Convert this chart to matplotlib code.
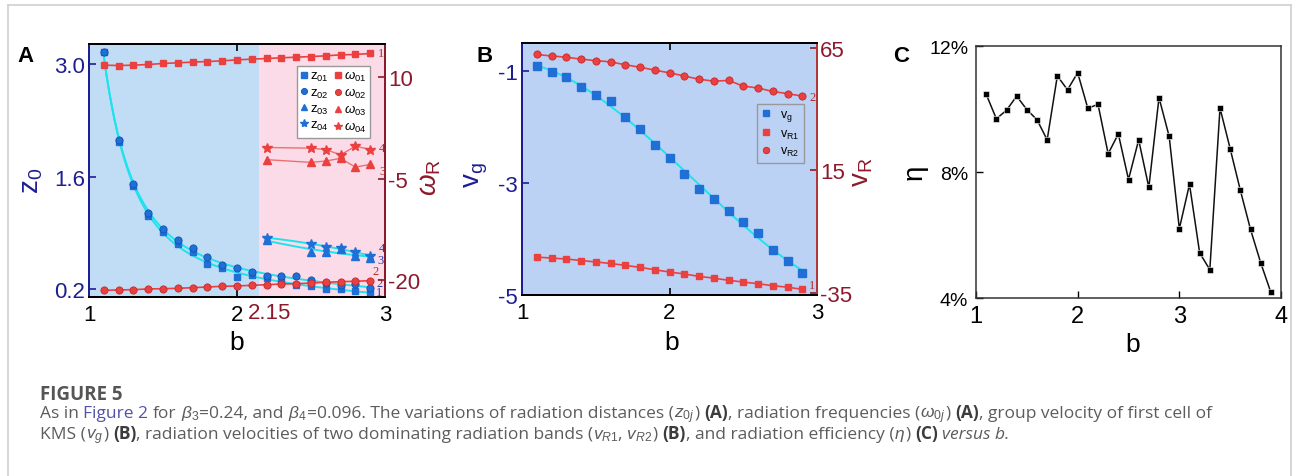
import numpy as np
import matplotlib
matplotlib.use("Agg")
import matplotlib.pyplot as plt
from matplotlib.lines import Line2D
from matplotlib.transforms import IdentityTransform
from matplotlib.ticker import FuncFormatter

plt.rcParams['font.family'] = ['Liberation Sans', 'DejaVu Sans']
plt.rcParams['axes.unicode_minus'] = False
plt.rcParams['mathtext.fontset'] = 'custom'
plt.rcParams['mathtext.rm'] = 'Liberation Sans'
plt.rcParams['mathtext.it'] = 'Liberation Sans:italic'
plt.rcParams['mathtext.bf'] = 'Liberation Sans:bold'

# ---------------- data ----------------
# Panel A
b_A = [1.1, 1.2, 1.3, 1.4, 1.5, 1.6, 1.7, 1.8, 1.9, 2.0,
       2.1, 2.2, 2.3, 2.4, 2.5, 2.6, 2.7, 2.8, 2.9]
z01 = [3.15, 2.03, 1.48, 1.11, 0.91, 0.76, 0.66, 0.51, 0.46, 0.35,
       0.37, 0.34, 0.30, 0.25, 0.24, 0.20, 0.20, 0.17, 0.15]
z02 = [3.15, 2.05, 1.51, 1.15, 0.95, 0.81, 0.71, 0.60, 0.50, 0.46,
       0.41, 0.36, 0.36, 0.36, 0.31, 0.27, 0.25, 0.26, 0.21]
w01 = [11.77, 11.72, 11.77, 11.87, 12.02, 12.12, 12.22, 12.31, 12.41, 12.56,
       12.66, 12.76, 12.86, 12.95, 13.05, 13.15, 13.30, 13.35, 13.50]
w02 = [-21.51, -21.46, -21.41, -21.31, -21.27, -21.22, -21.12, -21.02, -20.92, -20.87,
       -20.77, -20.68, -20.58, -20.53, -20.43, -20.33, -20.23, -20.18, -20.08]
b_hi = [2.2, 2.5, 2.6, 2.7, 2.8, 2.9]
z03 = [0.81, 0.66, 0.66, 0.70, 0.61, 0.59]
z04 = [0.84, 0.76, 0.72, 0.71, 0.66, 0.61]
w03 = [-2.2, -2.6, -2.4, -2.0, -3.3, -2.9]
w04 = [-0.4, -0.5, -0.7, -1.5, -0.2, -0.7]
b_split = 2.15

# Panel B
b_B = b_A
vg = [-0.91, -1.01, -1.11, -1.28, -1.43, -1.54, -1.83, -2.04, -2.32, -2.55,
      -2.84, -3.10, -3.29, -3.50, -3.70, -3.89, -4.20, -4.39, -4.60]
vR1 = [-20.5, -20.9, -21.3, -21.9, -22.5, -23.1, -23.9, -24.7, -25.7, -26.6,
       -27.4, -28.4, -29.1, -30.0, -30.7, -31.4, -32.2, -32.8, -33.7]
vR2 = [62.3, 61.7, 61.2, 60.4, 59.8, 59.3, 58.1, 57.1, 55.9, 54.8,
       53.5, 52.2, 51.4, 51.7, 49.4, 48.6, 47.2, 46.3, 45.3]

# Panel C
b_C = [1.1, 1.2, 1.3, 1.4, 1.5, 1.6, 1.7, 1.8, 1.9, 2.0,
       2.1, 2.2, 2.3, 2.4, 2.5, 2.6, 2.7, 2.8, 2.9, 3.0,
       3.1, 3.2, 3.3, 3.4, 3.5, 3.6, 3.7, 3.8, 3.9]
eta = [10.47, 9.69, 9.96, 10.41, 9.98, 9.66, 9.02, 11.05, 10.61, 11.15,
       10.02, 10.15, 8.58, 9.21, 7.76, 9.02, 7.51, 10.36, 9.13, 6.20,
       7.61, 5.43, 4.90, 10.03, 8.74, 7.42, 6.18, 5.12, 4.18]

# ---------------- style ----------------
NAVY = '#1e1e94'
MAROON = '#8c1a2c'
BLUE_M = '#1f6fd6'
RED_M = '#ea4040'
RED_L = '#ec7070'
CYAN = '#1ee3ee'
BG_BLUE = '#c1ddf6'
BG_PINK = '#fbdbe8'
BG_B = '#bcd2f5'

W, H = 1293, 477
fig = plt.figure(figsize=(W / 100, H / 100), dpi=100)


def px_axes(l, t, r, b):
    return fig.add_axes([l / W, 1 - b / H, (r - l) / W, (b - t) / H])


def fit_curve(x, y, deg, logmode=False, n=200):
    x = np.asarray(x, float)
    y = np.asarray(y, float)
    xs = np.linspace(x.min(), x.max(), n)
    if logmode:
        p = np.polyfit(np.log(x), np.log(y), deg)
        return xs, np.exp(np.polyval(p, np.log(xs)))
    p = np.polyfit(x, y, deg)
    return xs, np.polyval(p, xs)


num_font = dict(family=['Liberation Serif', 'DejaVu Serif'], fontsize=9)

# ================= Panel A =================
axA = px_axes(89, 45, 385, 298)
axA2 = axA.twinx()
axA.axvspan(1, b_split, color=BG_BLUE, lw=0, zorder=0)
axA.axvspan(b_split, 3, color=BG_PINK, lw=0, zorder=0)

for zz in (z01, z02):
    xs, ys = fit_curve(b_A, zz, 4, logmode=True)
    axA.plot(xs, ys, color=CYAN, lw=1.4, zorder=2)
for zz in (z03, z04):
    xs, ys = fit_curve(b_hi, zz, 2)
    axA.plot(xs, ys, color=CYAN, lw=1.4, zorder=2)

hz1, = axA.plot(b_A, z01, 's', color=BLUE_M, ms=4.6, zorder=3, label=r'z$_{01}$')
hz2, = axA.plot(b_A, z02, 'o', color=BLUE_M, ms=5.2, mec='#1050b0', mew=0.6, zorder=3, label=r'z$_{02}$')
hz3, = axA.plot(b_hi, z03, '^', color=BLUE_M, ms=5.5, zorder=3, label=r'z$_{03}$')
hz4, = axA.plot(b_hi, z04, '*', color=BLUE_M, ms=7, zorder=3, label=r'z$_{04}$')

axA2.plot(b_A, w01, '-', color=RED_M, lw=1.2, zorder=2)
axA2.plot(b_A, w02, '-', color=RED_M, lw=1.2, zorder=2)
axA2.plot(b_hi, w03, '-', color=RED_L, lw=1.0, zorder=2)
axA2.plot(b_hi, w04, '-', color=RED_L, lw=1.0, zorder=2)
hw1, = axA2.plot(b_A, w01, 's', color=RED_M, ms=4.6, zorder=3, label=r'$\omega_{01}$')
hw2, = axA2.plot(b_A, w02, 'o', color=RED_M, ms=5.2, mec='#c42a2a', mew=0.6, zorder=3, label=r'$\omega_{02}$')
hw3, = axA2.plot(b_hi, w03, '^', color=RED_M, ms=5.5, zorder=3, label=r'$\omega_{03}$')
hw4, = axA2.plot(b_hi, w04, '*', color=RED_M, ms=7, zorder=3, label=r'$\omega_{04}$')

axA.set_xlim(1, 3)
axA.set_ylim(0.10, 3.25)
axA2.set_ylim(-22.5, 14.9)
axA.set_xticks([1, 2, 3])
axA.set_yticks([0.2, 1.6, 3.0])
axA.set_yticklabels(['0.2', '1.6', '3.0'])
axA2.set_yticks([-20, -5, 10])
axA.tick_params(axis='x', direction='in', length=5, width=1.2, labelsize=16, pad=5, top=True)
axA.tick_params(axis='y', direction='in', length=5, width=1.2, labelsize=16, pad=3,
                colors=NAVY)
axA2.tick_params(axis='y', direction='in', length=5, width=1.2, labelsize=16, pad=2,
                 colors=MAROON)
for ax in (axA, axA2):
    for s in ax.spines.values():
        s.set_linewidth(1.4)
    ax.spines['left'].set_color(NAVY)
    ax.spines['right'].set_color(MAROON)
axA.text(2.22, -0.02, '2.15', transform=axA.get_xaxis_transform(), ha='center',
         va='top', fontsize=16, color=MAROON)
axA.text(0.5, -0.178, 'b', transform=axA.transAxes, ha='center', va='center', fontsize=19)
axA.text(-0.193, 0.462, r'z$_0$', transform=axA.transAxes, ha='center', va='center',
         fontsize=20, rotation=90, color=NAVY)
axA.text(1.152, 0.474, r'$\omega_\mathrm{R}$', transform=axA.transAxes, ha='center',
         va='center', fontsize=20, rotation=90, color=MAROON)

leg = axA2.legend(handles=[hz1, hz2, hz3, hz4, hw1, hw2, hw3, hw4], ncol=2,
                  loc='upper left', bbox_to_anchor=(0.703, 0.913), fontsize=9.5,
                  frameon=True, fancybox=False, edgecolor='#999999', framealpha=1,
                  handlelength=0.6, handletextpad=0.15, columnspacing=0.4,
                  labelspacing=0.22, borderpad=0.25, borderaxespad=0, markerscale=0.85)
leg.get_frame().set_linewidth(1.0)

for (xx, yy, tt) in [(2.955, 13.5, '1'), (2.915, -18.7, '2'), (2.955, -0.5, '4'), (2.965, -3.9, '3')]:
    axA2.text(xx, yy, tt, color='#b02a2a', ha='left', va='center', clip_on=False, **num_font)
for (xx, yy, tt) in [(2.955, 0.71, '4'), (2.95, 0.56, '3'), (2.945, 0.28, '2'), (2.94, 0.16, '1')]:
    axA.text(xx, yy, tt, color='#2a3aa8', ha='left', va='center', clip_on=False, **num_font)
fig.text(17 / W, 1 - 56 / H, 'A', fontsize=16, fontweight='bold', ha='left', va='center')

# ================= Panel B =================
axB = px_axes(522, 44, 817, 296)
axB2 = axB.twinx()
axB.set_facecolor(BG_B)
xs, ys = fit_curve(b_B, vg, 3)
axB.plot(xs, ys, color=CYAN, lw=1.4, zorder=2)
hvg, = axB.plot(b_B, vg, 's', color=BLUE_M, ms=5.5, zorder=3, label=r'v$_\mathrm{g}$')
axB2.plot(b_B, vR1, '-', color=RED_M, lw=1.2)
axB2.plot(b_B, vR2, '-', color=RED_M, lw=1.2)
hv1, = axB2.plot(b_B, vR1, 's', color=RED_M, ms=5, label=r'v$_\mathrm{R1}$')
hv2, = axB2.plot(b_B, vR2, 'o', color=RED_M, ms=5.2, mec='#c42a2a', mew=0.6, label=r'v$_\mathrm{R2}$')
axB.set_xlim(1, 3)
axB.set_ylim(-5, -0.5)
axB2.set_ylim(-36, 67)
axB.set_xticks([1, 2, 3])
axB.set_yticks([-5, -3, -1])
axB2.set_yticks([-35, 15, 65])
axB.tick_params(axis='x', direction='in', length=5, width=1.2, labelsize=16, pad=5, top=True)
axB.tick_params(axis='y', direction='in', length=5, width=1.2, labelsize=16, pad=3, colors=NAVY)
axB2.tick_params(axis='y', direction='in', length=5, width=1.2, labelsize=16, pad=2, colors=MAROON)
for ax in (axB, axB2):
    for s in ax.spines.values():
        s.set_linewidth(1.4)
    ax.spines['left'].set_color(NAVY)
    ax.spines['right'].set_color('#b03838')
axB.text(0.508, -0.187, 'b', transform=axB.transAxes, ha='center', va='center', fontsize=19)
axB.text(-0.156, 0.48, r'v$_\mathrm{g}$', transform=axB.transAxes, ha='center', va='center',
         fontsize=20, rotation=90, color=NAVY)
axB.text(1.153, 0.49, r'v$_\mathrm{R}$', transform=axB.transAxes, ha='center', va='center',
         fontsize=20, rotation=90, color=MAROON)
legB = axB2.legend(handles=[hvg, hv1, hv2], loc='upper left', bbox_to_anchor=(0.797, 0.758),
                   fontsize=9, frameon=True, fancybox=False, edgecolor='#999999',
                   framealpha=1, facecolor=BG_B, handlelength=0.8, handletextpad=0.7,
                   labelspacing=0.35, borderpad=0.35, borderaxespad=0, markerscale=0.9)
legB.get_frame().set_linewidth(1.0)
axB2.text(2.95, 44.8, '2', color='#b02a2a', ha='left', va='center', clip_on=False, **num_font)
axB2.text(2.945, -32, '1', color='#b02a2a', ha='left', va='center', clip_on=False, **num_font)
fig.text(476 / W, 1 - 56 / H, 'B', fontsize=16, fontweight='bold', ha='left', va='center')

# ================= Panel C =================
axC = px_axes(976, 47, 1281, 299)
axC.plot(b_C, eta, '-', color='#111111', lw=1.1)
axC.plot(b_C, eta, 's', color='black', ms=4.3, mec='white', mew=0.4)
axC.set_xlim(1, 4)
axC.set_ylim(4, 12)
axC.set_xticks([1, 2, 3, 4])
axC.set_yticks([4, 8, 12])
axC.yaxis.set_major_formatter(FuncFormatter(lambda v, p: f'{v:.0f}%'))
axC.tick_params(axis='x', direction='in', length=5, width=1.0, labelsize=17, pad=5)
axC.tick_params(axis='y', direction='in', length=5, width=1.0, labelsize=14, pad=5.5)
for s in axC.spines.values():
    s.set_linewidth(1.1)
    s.set_color('#333333')
axC.text(0.515, -0.183, 'b', transform=axC.transAxes, ha='center', va='center', fontsize=19)
axC.text(-0.2, 0.504, 'η', transform=axC.transAxes, ha='center', va='center',
         fontsize=20, rotation=90)
fig.text(893 / W, 1 - 57 / H, 'C', fontsize=16, fontweight='bold', ha='left', va='center')

# ================= frame =================
fc = '#cfcfcf'
fig.add_artist(Line2D([7.5 / W, 7.5 / W], [0, 1 - 5.5 / H], color=fc, lw=1.2, transform=fig.transFigure))
fig.add_artist(Line2D([7.5 / W, 1291 / W], [1 - 5.5 / H, 1 - 5.5 / H], color=fc, lw=1.2, transform=fig.transFigure))
fig.add_artist(Line2D([1291 / W, 1291 / W], [0, 1 - 5.5 / H], color=fc, lw=1.2, transform=fig.transFigure))

# ================= caption =================
CAP = '#5c5c5c'
LINK = '#5053a6'
BOLD = '#3c3c3c'
CAP_FONT = ['Open Sans', 'DejaVu Sans']

fig.text(40 / W, 1 - 400 / H, 'FIGURE 5', fontsize=13.5, fontweight='bold', color='#555555',
         family=CAP_FONT, ha='left', va='baseline')

line1 = [("As in ", 'n'), ("Figure 2", 'l'), (" for ", 'n'), (r"$\beta_3$", 'n'),
         ("=0.24, and ", 'n'), (r"$\beta_4$", 'n'),
         ("=0.096. The variations of radiation distances (", 'n'), (r"$z_{0j}$", 'n'),
         (") ", 'n'), ("(A)", 'b'), (", radiation frequencies (", 'n'),
         (r"$\omega_{0j}$", 'n'), (") ", 'n'), ("(A)", 'b'),
         (", group velocity of first cell of", 'n')]
line2 = [("KMS (", 'n'), (r"$v_g$", 'n'), (") ", 'n'), ("(B)", 'b'),
         (", radiation velocities of two dominating radiation bands (", 'n'),
         (r"$v_{R1}$, $v_{R2}$", 'n'), (") ", 'n'), ("(B)", 'b'),
         (", and radiation efficiency (", 'n'), (r"$\eta$", 'n'), (") ", 'n'),
         ("(C)", 'b'), (" versus b.", 'i')]

renderer = fig.canvas.get_renderer()


def style_kw(st, size):
    kw = dict(fontsize=size, family=CAP_FONT, color=CAP)
    if st == 'l':
        kw['color'] = LINK
    elif st == 'b':
        kw['color'] = BOLD
        kw['fontweight'] = 'bold'
    elif st == 'i':
        kw['fontstyle'] = 'italic'
    return kw


def measure(s, kw):
    t = fig.text(0, 0, s, transform=IdentityTransform(), **kw)
    w = t.get_window_extent(renderer).width
    t.remove()
    return w


def layout(runs, size, x0, y0, draw):
    x = x0
    for s, st in runs:
        kw = style_kw(st, size)
        sp = measure('a a', kw) - measure('aa', kw)
        core = s.strip(' ')
        if not core:
            x += len(s) * sp
            continue
        lead = len(s) - len(s.lstrip(' '))
        trail = len(s) - len(s.rstrip(' '))
        x += lead * sp
        if draw:
            fig.text(x, y0, core, transform=IdentityTransform(), ha='left',
                     va='baseline', **kw)
        x += measure(core, kw)
        x += trail * sp
    return x - x0


base = 11.0
wbase = layout(line1, base, 0, 0, False)
size = base * (1177 / wbase)
layout(line1, size, 40, H - 418, True)
layout(line2, size, 40, H - 439, True)

fig.savefig('out.png', dpi=100)
